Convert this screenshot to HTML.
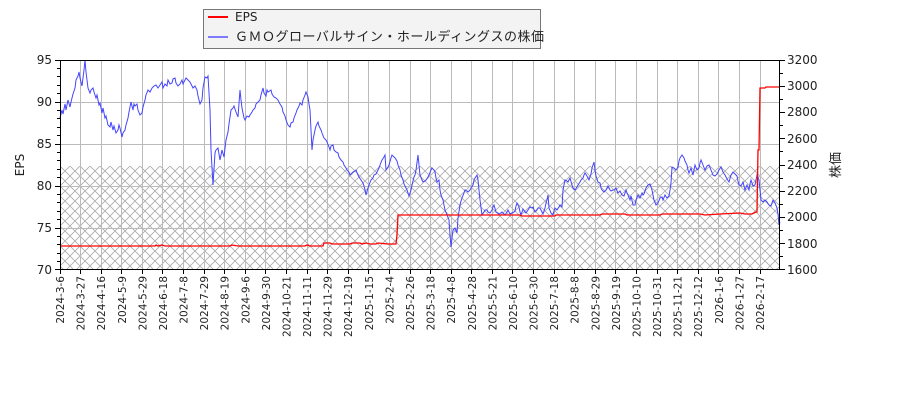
<!DOCTYPE html>
<html><head><meta charset="utf-8"><style>
body{margin:0;background:#fff;}
svg{display:block;font-family:"DejaVu Sans","Liberation Sans","Noto Sans CJK JP",sans-serif;}
</style></head><body>
<svg width="900" height="400" xmlns="http://www.w3.org/2000/svg">
<defs>
<pattern id="h" width="10" height="10" patternUnits="userSpaceOnUse" x="60" y="166">
<path d="M0,0L10,10M10,0L0,10" stroke="#aaa" stroke-width="0.8"/>
</pattern>
</defs>
<rect x="60" y="60" width="720" height="210" fill="#fff"/>
<rect x="60" y="166" width="720" height="104" fill="url(#h)"/>
<g stroke="#bbbbbb" stroke-width="1">
<line x1="60" y1="102.5" x2="780" y2="102.5"/><line x1="60" y1="144.5" x2="780" y2="144.5"/>
<line x1="60" y1="186.5" x2="780" y2="186.5"/><line x1="60" y1="228.5" x2="780" y2="228.5"/>
</g>
<path stroke="#bbbbbb" stroke-width="1" fill="none" d="M80.5,60V270M101.5,60V270M121.5,60V270M142.5,60V270M162.5,60V270M183.5,60V270M204.5,60V270M224.5,60V270M245.5,60V270M265.5,60V270M286.5,60V270M307.5,60V270M327.5,60V270M348.5,60V270M368.5,60V270M389.5,60V270M410.5,60V270M430.5,60V270M451.5,60V270M471.5,60V270M492.5,60V270M512.5,60V270M533.5,60V270M554.5,60V270M574.5,60V270M595.5,60V270M615.5,60V270M636.5,60V270M657.5,60V270M677.5,60V270M698.5,60V270M718.5,60V270M739.5,60V270M760.5,60V270"/>
<polyline fill="none" stroke="#4444ff" stroke-width="1" points="60,118 62,110 63,114 65,104 66,110 68,100 70,107 71,102 73,94 75,88 76,80 78,76 79,72 80,78 81,82 82,86 84,70 85,60 86,72 87,80 88,88 90,93 91,90 93,88 94,92 96,98 97,95 99,105 100,103 102,113 103,108 105,118 106,116 108,125 110,127 111,122 113,130 114,126 116,133 118,130 119,125 120,128 122,137 123,133 125,130 126,125 128,118 129,112 131,102 133,110 134,104 135,106 137,104 138,110 140,115 142,113 143,107 145,100 146,95 148,90 150,92 152,88 154,86 156,85 158,88 160,85 162,82 163,88 165,84 167,86 168,80 170,84 172,83 173,79 175,78 176,83 178,86 180,84 182,80 183,84 186,78 188,80 190,82 192,86 193,88 195,86 197,90 198,96 200,104 202,100 203,88 205,77 207,78 208,76 210,110 211,150 213,185 215,153 216,150 218,148 220,160 222,150 224,157 226,140 228,132 229,124 231,110 233,108 234,106 236,112 238,117 240,90 241,100 242,108 244,118 245,120 247,116 249,117 250,115 252,112 253,110 255,108 256,104 258,102 260,100 261,95 263,88 264,93 266,96 267,90 268,92 271,90 272,94 274,97 276,98 278,100 280,104 282,107 283,112 285,116 286,120 288,125 290,127 291,123 293,122 294,118 296,113 297,110 299,106 300,103 302,105 303,100 305,95 306,92 308,97 309,104 310,110 312,150 313,140 315,130 316,126 318,122 319,126 321,130 322,133 324,138 326,140 327,142 329,147 330,150 331,146 333,145 334,150 336,152 338,153 339,157 341,160 343,162 344,165 346,168 347,170 349,172 350,175 352,173 353,172 355,171 356,170 358,175 359,177 361,180 363,183 364,186 365,190 366,195 368,188 369,185 371,180 373,178 374,175 376,174 377,172 379,168 380,165 382,160 384,157 385,155 386,170 388,167 389,165 391,158 392,155 394,157 395,158 397,161 398,165 400,170 401,175 403,180 404,184 406,188 407,190 409,196 411,190 412,185 414,177 415,175 416,170 418,155 419,165 420,175 422,180 423,182 425,181 426,180 428,177 429,175 431,170 432,168 434,170 435,172 436,178 437,182 439,180 440,190 441,195 443,200 444,205 445,210 447,215 449,220 450,235 451,247 452,238 453,230 455,228 457,233 458,218 460,205 461,201 462,198 464,193 465,190 467,191 468,192 470,190 471,188 473,185 474,180 475,178 477,175 478,180 479,190 480,200 482,215 484,212 485,210 487,210 488,212 490,213 492,210 493,207 494,205 496,212 498,213 499,214 501,213 502,212 504,214 505,215 507,212 508,210 510,214 512,213 514,212 515,211 516,206 517,203 519,207 520,212 521,215 523,209 525,212 526,213 528,210 530,207 532,208 533,207 535,212 537,210 538,208 540,208 542,212 543,214 545,208 546,203 547,200 548,195 549,208 551,213 553,215 554,211 555,208 557,210 559,207 560,205 562,207 563,190 564,185 565,180 567,181 568,182 570,178 572,185 573,188 575,190 577,187 578,185 580,182 581,180 583,178 584,175 585,173 587,176 589,180 591,174 592,168 594,162 595,170 596,176 598,182 600,183 601,188 602,190 604,192 606,190 607,188 608,186 610,190 611,191 613,190 614,190 616,188 618,193 620,191 621,193 622,195 624,196 626,190 627,193 628,195 630,200 631,196 633,205 635,205 636,200 638,195 640,198 642,193 643,195 644,194 646,188 648,185 650,184 651,187 652,190 653,195 654,200 656,205 658,203 660,198 662,197 663,200 665,195 667,198 669,196 670,190 671,183 672,167 674,168 676,170 678,167 679,161 680,158 682,155 684,158 685,161 687,165 688,170 689,173 691,168 693,175 695,165 697,170 699,168 700,163 701,160 703,165 705,170 707,166 709,165 711,170 713,175 715,176 717,174 719,170 721,167 723,172 725,175 727,179 729,182 731,175 733,172 735,174 737,176 738,181 739,185 741,186 743,182 745,190 747,185 749,190 750,184 751,180 753,186 755,185 756,180 757,175 759,180 760,190 761,200 763,202 765,200 767,202 769,205 771,206 773,200 775,203 777,208 778,214 779,225 780,222"/>
<polyline fill="none" stroke="#ff0000" stroke-width="1.3" points="60,246 155,246 156,245 158,246 162,245 165,246 230,246 232,245 238,246 305,246 307,245 310,246 323,246 324,243 330,243 332,244 340,244 342,244 350,244 352,243 360,243 362,244 366,243 370,244 376,244 378,243 388,244 396,244 397,235 398,215 520,215 522,216 555,216 556,215 600,215 602,214 625,214 627,215 660,215 662,214 700,214 705,215 720,214 740,213 745,214 752,214 756,212 757,212 758,150 759,150 760,88 765,88 766,87 780,87"/>
<rect x="60.5" y="60.5" width="719" height="209" fill="none" stroke="#000" stroke-width="1"/>
<path stroke="#000" stroke-width="1" fill="none" d="M60.5,270v4M80.5,270v4M101.5,270v4M121.5,270v4M142.5,270v4M162.5,270v4M183.5,270v4M204.5,270v4M224.5,270v4M245.5,270v4M265.5,270v4M286.5,270v4M307.5,270v4M327.5,270v4M348.5,270v4M368.5,270v4M389.5,270v4M410.5,270v4M430.5,270v4M451.5,270v4M471.5,270v4M492.5,270v4M512.5,270v4M533.5,270v4M554.5,270v4M574.5,270v4M595.5,270v4M615.5,270v4M636.5,270v4M657.5,270v4M677.5,270v4M698.5,270v4M718.5,270v4M739.5,270v4M760.5,270v4
M55,60.5h5M57,68.5h3M57,76.5h3M57,85.5h3M57,93.5h3M55,102.5h5M57,110.5h3M57,118.5h3M57,127.5h3M57,135.5h3M55,144.5h5M57,152.5h3M57,160.5h3M57,169.5h3M57,177.5h3M55,186.5h5M57,194.5h3M57,202.5h3M57,211.5h3M57,219.5h3M55,228.5h5M57,236.5h3M57,244.5h3M57,253.5h3M57,261.5h3M55,269.5h5
M780,60.5h5M780,73.5h3M780,86.5h5M780,99.5h3M780,112.5h5M780,125.5h3M780,138.5h5M780,151.5h3M780,165.5h5M780,178.5h3M780,191.5h5M780,204.5h3M780,217.5h5M780,230.5h3M780,243.5h5M780,256.5h3M780,269.5h5"/>
<g font-size="12" fill="#222" text-anchor="end">
<text x="52" y="64">95</text><text x="52" y="106">90</text><text x="52" y="148">85</text>
<text x="52" y="190">80</text><text x="52" y="232">75</text><text x="52" y="274">70</text>
</g>
<g font-size="12" fill="#222">
<text x="787" y="64">3200</text><text x="787" y="90">3000</text><text x="787" y="116">2800</text>
<text x="787" y="143">2600</text><text x="787" y="169">2400</text><text x="787" y="195">2200</text>
<text x="787" y="221">2000</text><text x="787" y="248">1800</text><text x="787" y="274">1600</text>
</g>
<text transform="translate(24,165) rotate(-90)" font-size="12" text-anchor="middle" fill="#222">EPS</text>
<text transform="translate(840,165) rotate(-90)" font-size="13" text-anchor="middle" fill="#222">株価</text>
<g font-size="10.5" fill="#222" text-anchor="end">
<text transform="translate(64,276) rotate(-90)">2024-3-6</text>
<text transform="translate(84.6,276) rotate(-90)">2024-3-27</text>
<text transform="translate(105.2,276) rotate(-90)">2024-4-16</text>
<text transform="translate(125.8,276) rotate(-90)">2024-5-9</text>
<text transform="translate(146.4,276) rotate(-90)">2024-5-29</text>
<text transform="translate(166.9,276) rotate(-90)">2024-6-18</text>
<text transform="translate(187.5,276) rotate(-90)">2024-7-8</text>
<text transform="translate(208.1,276) rotate(-90)">2024-7-29</text>
<text transform="translate(228.7,276) rotate(-90)">2024-8-19</text>
<text transform="translate(249.3,276) rotate(-90)">2024-9-6</text>
<text transform="translate(269.9,276) rotate(-90)">2024-9-30</text>
<text transform="translate(290.5,276) rotate(-90)">2024-10-21</text>
<text transform="translate(311.1,276) rotate(-90)">2024-11-11</text>
<text transform="translate(331.6,276) rotate(-90)">2024-11-29</text>
<text transform="translate(352.2,276) rotate(-90)">2024-12-19</text>
<text transform="translate(372.8,276) rotate(-90)">2025-1-15</text>
<text transform="translate(393.4,276) rotate(-90)">2025-2-4</text>
<text transform="translate(414,276) rotate(-90)">2025-2-26</text>
<text transform="translate(434.6,276) rotate(-90)">2025-3-18</text>
<text transform="translate(455.2,276) rotate(-90)">2025-4-8</text>
<text transform="translate(475.8,276) rotate(-90)">2025-4-28</text>
<text transform="translate(496.4,276) rotate(-90)">2025-5-21</text>
<text transform="translate(516.9,276) rotate(-90)">2025-6-10</text>
<text transform="translate(537.5,276) rotate(-90)">2025-6-30</text>
<text transform="translate(558.1,276) rotate(-90)">2025-7-18</text>
<text transform="translate(578.7,276) rotate(-90)">2025-8-8</text>
<text transform="translate(599.3,276) rotate(-90)">2025-8-29</text>
<text transform="translate(619.9,276) rotate(-90)">2025-9-19</text>
<text transform="translate(640.5,276) rotate(-90)">2025-10-10</text>
<text transform="translate(661.1,276) rotate(-90)">2025-10-31</text>
<text transform="translate(681.6,276) rotate(-90)">2025-11-21</text>
<text transform="translate(702.2,276) rotate(-90)">2025-12-12</text>
<text transform="translate(722.8,276) rotate(-90)">2026-1-6</text>
<text transform="translate(743.4,276) rotate(-90)">2026-1-27</text>
<text transform="translate(764,276) rotate(-90)">2026-2-17</text>
</g>
<rect x="203.5" y="9.5" width="337" height="39" fill="#f3f3f3" stroke="#777"/>
<line x1="208" y1="17" x2="228" y2="17" stroke="#ff0000" stroke-width="2"/>
<text x="235" y="21" font-size="12" fill="#222">EPS</text>
<line x1="208" y1="37" x2="228" y2="37" stroke="#5555ff" stroke-width="1.5"/>
<text x="235" y="41" font-size="13" fill="#222" letter-spacing="0.5">ＧＭＯグローバルサイン・ホールディングスの株価</text>
</svg>
</body></html>
